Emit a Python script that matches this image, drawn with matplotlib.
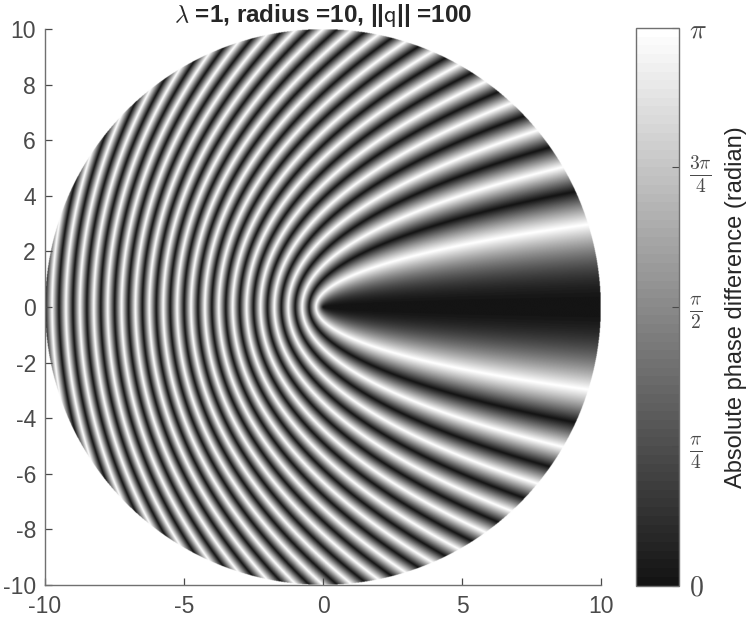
import numpy as np
import matplotlib
matplotlib.use("Agg")
import matplotlib.pyplot as plt
from matplotlib.colors import LinearSegmentedColormap

plt.rcParams['font.family'] = ['Liberation Sans', 'DejaVu Sans']
plt.rcParams['mathtext.fontset'] = 'cm'
plt.rcParams['axes.unicode_minus'] = False

# parameters from the chart title
wavelength = 1
radius = 10
q_norm = 100

x_ticks = [-10, -5, 0, 5, 10]
y_ticks = [-10, -8, -6, -4, -2, 0, 2, 4, 6, 8, 10]
cbar_ticks = [0, np.pi / 4, np.pi / 2, 3 * np.pi / 4, np.pi]
cbar_labels = [r'$0$', r'$\frac{\pi}{4}$', r'$\frac{\pi}{2}$', r'$\frac{3\pi}{4}$', r'$\pi$']

GREY = '#4a4a4a'
W, H = 747, 622

# the field: absolute wrapped phase of the path difference via a point p
xs = np.linspace(-radius, radius, 1400)
X, Y = np.meshgrid(xs, xs)
path = np.hypot(X, Y) + np.hypot(q_norm - X, Y) - q_norm
phase = np.abs(np.angle(np.exp(2j * np.pi * path / wavelength)))
phase = np.ma.masked_where(np.hypot(X, Y) > radius, phase)

# MATLAB style gray map with 64 steps
cmap = LinearSegmentedColormap.from_list('g', ['#141414', '#ffffff'], N=64)
cmap.set_bad('white')

fig = plt.figure(figsize=(W / 100, H / 100), dpi=100)
ax = fig.add_axes([45 / W, 1 - 585 / H, 556 / W, 556 / H])
im = ax.imshow(phase, extent=[-radius, radius, -radius, radius], origin='lower',
               cmap=cmap, vmin=0, vmax=np.pi, interpolation='bilinear', aspect='auto')
ax.set_xticks(x_ticks)
ax.set_yticks(y_ticks)
ax.tick_params(axis='both', direction='in', length=5, width=0.9, color=GREY,
               labelcolor=GREY, labelsize=16.5)
ax.tick_params(axis='x', pad=7)
ax.tick_params(axis='y', pad=6.5)
ax.spines['top'].set_visible(False)
ax.spines['right'].set_visible(False)
for s in ['left', 'bottom']:
    ax.spines[s].set_color('#707070')
    ax.spines[s].set_linewidth(1.0)
ax.set_title(r'$\lambda$ =1, radius =10, ||$\mathsf{q}$|| =100', fontsize=17.5,
             fontweight='bold', color='#262626', pad=1)

cax = fig.add_axes([635.5 / W, 1 - 585.5 / H, 43.5 / W, 557.5 / H])
cb = fig.colorbar(im, cax=cax)
cb.set_ticks(cbar_ticks)
cb.set_ticklabels(cbar_labels)
cb.ax.tick_params(direction='in', length=5, width=0.8, color=GREY, labelcolor=GREY,
                  labelsize=20, pad=7)
cb.outline.set_edgecolor('#707070')
cb.outline.set_linewidth(1.0)
cb.set_label('Absolute phase difference (radian)', fontsize=17, color='#262626', labelpad=10)

fig.savefig('out.png', dpi=100)
